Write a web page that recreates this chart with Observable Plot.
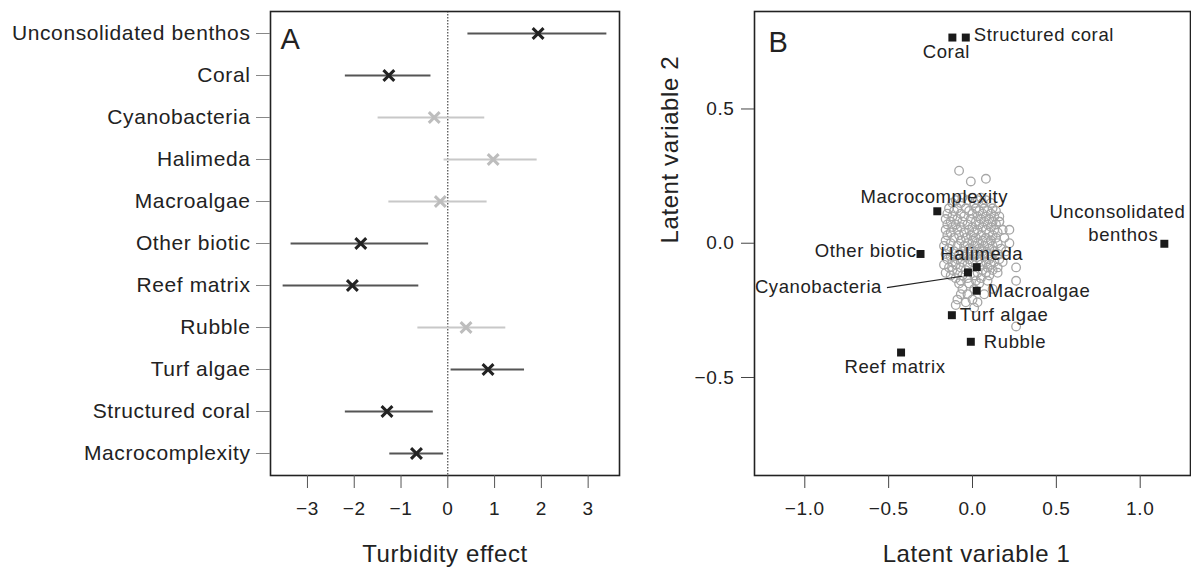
<!DOCTYPE html>
<html>
<head>
<meta charset="utf-8">
<script src="https://cdn.jsdelivr.net/npm/d3@7"></script>
<script src="https://cdn.jsdelivr.net/npm/@observablehq/plot@0.6"></script>
<style>
  html, body { margin: 0; padding: 0; background: white; }
  #wrap { display: flex; width: 1191px; height: 568px; overflow: hidden; }
  #wrap svg { overflow: visible; }
</style>
</head>
<body>
<div id="wrap"><div id="a"></div><div id="b"></div></div>
<script>
// ---------- Panel A data ----------
const categories = ["Unconsolidated benthos", "Coral", "Cyanobacteria", "Halimeda", "Macroalgae",
  "Other biotic", "Reef matrix", "Rubble", "Turf algae", "Structured coral", "Macrocomplexity"];
const estimate = [1.93, -1.26, -0.29, 0.97, -0.16, -1.86, -2.04, 0.39, 0.86, -1.30, -0.67];
const lower    = [0.43, -2.19, -1.49, -0.08, -1.26, -3.35, -3.52, -0.64, 0.07, -2.19, -1.24];
const upper    = [3.40, -0.36, 0.79, 1.91, 0.84, -0.41, -0.62, 1.24, 1.64, -0.31, -0.09];
const significant = [true, true, false, false, false, true, true, false, true, true, true];
const effectTicks = [-3, -2, -1, 0, 1, 2, 3];

// ---------- Panel B data ----------
const lvNames = ["Coral", "Structured coral", "Macrocomplexity", "Unconsolidated benthos", "Other biotic",
  "Halimeda", "Cyanobacteria", "Macroalgae", "Turf algae", "Rubble", "Reef matrix"];
const lv1 = [-0.12, -0.04, -0.21, 1.144, -0.31, 0.025, -0.027, 0.025, -0.123, -0.01, -0.426];
const lv2 = [0.766, 0.766, 0.119, -0.002, -0.04, -0.089, -0.109, -0.177, -0.268, -0.367, -0.407];
const lvTicksX = [-1, -0.5, 0, 0.5, 1];
const lvTicksY = [-0.5, 0, 0.5];
const siteScores = [
  [-0.06,0.17],[0.00,0.17],[0.05,0.17],
  [-0.10,0.16],[-0.03,0.16],[0.03,0.16],[0.08,0.16],
  [-0.12,0.15],[-0.07,0.15],[0.01,0.15],[0.06,0.15],[0.11,0.15],
  [-0.14,0.13],[-0.09,0.13],[-0.04,0.13],[0.02,0.13],[0.07,0.13],[0.12,0.13],
  [-0.11,0.12],[-0.02,0.12],[0.04,0.12],[0.09,0.12],[0.14,0.12],
  [-0.15,0.11],[-0.07,0.11],[0.00,0.11],[0.06,0.11],[0.11,0.11],
  [-0.12,0.10],[-0.05,0.10],[0.03,0.10],[0.08,0.10],[0.13,0.10],[0.16,0.10],
  [-0.16,0.09],[-0.09,0.09],[-0.01,0.09],[0.05,0.09],[0.10,0.09],
  [-0.13,0.08],[-0.06,0.08],[0.02,0.08],[0.07,0.08],[0.12,0.08],[0.16,0.08],
  [-0.15,0.07],[-0.10,0.07],[-0.03,0.07],[0.04,0.07],[0.09,0.07],[0.14,0.07],
  [-0.12,0.06],[-0.07,0.06],[0.00,0.06],[0.06,0.06],[0.11,0.06],
  [-0.16,0.05],[-0.09,0.05],[-0.02,0.05],[0.03,0.05],[0.08,0.05],[0.13,0.05],[0.18,0.05],
  [-0.13,0.04],[-0.05,0.04],[0.01,0.04],[0.10,0.04],[0.15,0.04],
  [-0.15,0.03],[-0.08,0.03],[-0.01,0.03],[0.05,0.03],[0.12,0.03],
  [-0.11,0.02],[-0.04,0.02],[0.02,0.02],[0.08,0.02],[0.14,0.02],[0.19,0.02],
  [-0.16,0.01],[-0.07,0.01],[0.00,0.01],[0.06,0.01],[0.11,0.01],
  [-0.13,0.00],[-0.03,0.00],[0.03,0.00],[0.09,0.00],[0.15,0.00],
  [-0.17,-0.01],[-0.09,-0.01],[-0.05,-0.01],[0.01,-0.01],[0.07,-0.01],[0.12,-0.01],
  [-0.14,-0.02],[-0.02,-0.02],[0.04,-0.02],[0.10,-0.02],[0.17,-0.02],
  [-0.11,-0.03],[-0.06,-0.03],[0.00,-0.03],[0.06,-0.03],[0.13,-0.03],
  [-0.16,-0.04],[-0.08,-0.04],[-0.03,-0.04],[0.03,-0.04],[0.09,-0.04],[0.15,-0.04],
  [-0.13,-0.05],[-0.05,-0.05],[0.01,-0.05],[0.07,-0.05],[0.11,-0.05],
  [-0.15,-0.06],[-0.09,-0.06],[-0.02,-0.06],[0.04,-0.06],[0.10,-0.06],[0.16,-0.06],
  [-0.12,-0.07],[-0.06,-0.07],[0.00,-0.07],[0.08,-0.07],[0.13,-0.07],
  [-0.17,-0.08],[-0.10,-0.08],[-0.03,-0.08],[0.05,-0.08],[0.11,-0.08],
  [-0.14,-0.09],[-0.07,-0.09],[0.09,-0.09],[0.15,-0.09],
  [-0.12,-0.10],[-0.04,-0.10],[0.06,-0.10],[0.12,-0.10],
  [-0.16,-0.11],[-0.09,-0.11],[0.03,-0.11],[0.08,-0.11],
  [-0.13,-0.12],[-0.06,-0.12],[0.01,-0.12],[0.10,-0.12],
  [-0.10,-0.13],[-0.03,-0.13],[0.05,-0.13],
  [-0.07,-0.14],[0.02,-0.14],[0.09,-0.14],
  [-0.08,-0.15],[-0.02,-0.15],[0.04,-0.15],
  [-0.06,-0.17],[0.01,-0.17],
  [-0.07,-0.19],[-0.03,-0.19],
  [-0.09,-0.21],[0.00,-0.21],
  [-0.04,-0.22],[0.03,-0.22],
  [-0.10,-0.23],[0.01,-0.24],
  [-0.08,0.27],[-0.01,0.23],[0.08,0.24],[0.16,0.08],[0.22,0.05],[0.22,0.00],
  [0.26,-0.09],[0.26,-0.14],[0.15,-0.11],[0.26,-0.31],[0.20,-0.03],[0.18,-0.07],
  [0.12,-0.17],[0.07,-0.19]
];
// leader line for the Cyanobacteria label (data units)
const cyanoLeader = {x1: -0.51, y1: -0.165, x2: -0.062, y2: -0.123};

// ---------- shared style ----------
const FONT = "'Liberation Sans', Arial, Helvetica, sans-serif";
const INK = "#222";
const STYLE = {fontFamily: FONT, fontSize: "19px", color: INK, background: "white",
  overflow: "visible", letterSpacing: "0.6px"};

const rowsA = categories.map((name, i) => ({
  name, est: estimate[i], lo: lower[i], hi: upper[i], sig: significant[i]
}));
const colorOf = d => d.sig ? INK : "#bdbdbd";
const lineOf = d => d.sig ? "#555" : "#c8c8c8";

const plotA = Plot.plot({
  width: 640, height: 568,
  marginLeft: 270, marginRight: 21, marginTop: 11, marginBottom: 93,
  style: STYLE,
  x: {domain: [-3.79, 3.67], ticks: effectTicks},
  y: {type: "point", domain: categories, padding: 0.4},
  marks: [
    Plot.ruleX([0], {stroke: INK, strokeWidth: 1, strokeDasharray: "1.5,1.5"}),
    Plot.ruleY(rowsA, {y: "name", x1: "lo", x2: "hi", stroke: lineOf, strokeWidth: 1.8}),
    Plot.dot(rowsA, {x: "est", y: "name", symbol: "times", r: 5, stroke: colorOf, strokeWidth: 3}),
    Plot.frame({stroke: INK, strokeWidth: 1.6}),
    Plot.axisY({tickSize: 14, tickPadding: 6, label: null, fontSize: 21, stroke: "#888", fill: INK}),
    Plot.axisX({ticks: effectTicks, tickSize: 13, tickPadding: 13, label: null, fontSize: 19,
      stroke: "#555", fill: INK, tickFormat: d3.format("d")}),
    Plot.text(["Turbidity effect"], {frameAnchor: "bottom", dy: 79, lineAnchor: "middle", fontSize: 24, fill: INK}),
    Plot.text(["A"], {frameAnchor: "top-left", dx: 10, dy: 28, textAnchor: "start", lineAnchor: "middle", fontSize: 29, fill: INK})
  ]
});
document.getElementById("a").append(plotA);

// ---------- Panel B ----------
const loadings = lvNames.map((name, i) => ({name, x: lv1[i], y: lv2[i]}));
const sites = siteScores.map(([x, y]) => ({x, y}));
// label placement (pixels relative to the square)
const placement = [
  {name: "Coral", text: "Coral", anchor: "middle", dx: -6, dy: 15},
  {name: "Structured coral", text: "Structured coral", anchor: "start", dx: 8, dy: -2},
  {name: "Macrocomplexity", text: "Macrocomplexity", anchor: "middle", dx: -3, dy: -14},
  {name: "Unconsolidated benthos", text: "Unconsolidated", anchor: "end", dx: 21, dy: -32},
  {name: "Unconsolidated benthos", text: "benthos", anchor: "end", dx: -6, dy: -9},
  {name: "Other biotic", text: "Other biotic", anchor: "end", dx: -4, dy: -3},
  {name: "Halimeda", text: "Halimeda", anchor: "middle", dx: 5, dy: -13},
  {name: "Macroalgae", text: "Macroalgae", anchor: "start", dx: 11, dy: 0},
  {name: "Turf algae", text: "Turf algae", anchor: "start", dx: 8, dy: 0},
  {name: "Rubble", text: "Rubble", anchor: "start", dx: 13, dy: 0},
  {name: "Reef matrix", text: "Reef matrix", anchor: "middle", dx: -6, dy: 15}
];

const labelMarks = placement.map(p => Plot.text(loadings.filter(d => d.name === p.name), {
  x: "x", y: "y", text: () => p.text, textAnchor: p.anchor, dx: p.dx, dy: p.dy,
  lineAnchor: "middle", fontSize: 18.5, fill: INK
}));

const plotB = Plot.plot({
  width: 551, height: 568,
  marginLeft: 114, marginRight: 1, marginTop: 11, marginBottom: 93,
  style: STYLE,
  x: {domain: [-1.3, 1.3]},
  y: {domain: [-0.865, 0.863]},
  marks: [
    Plot.dot(sites, {x: "x", y: "y", r: 4.3, stroke: "#a6a6a6", strokeWidth: 1.3, fill: "none"}),
    Plot.link([cyanoLeader], {x1: "x1", y1: "y1", x2: "x2", y2: "y2", stroke: INK, strokeWidth: 1.2}),
    Plot.text([cyanoLeader], {x: "x1", y: "y1", text: () => "Cyanobacteria", textAnchor: "end", dx: -5,
      lineAnchor: "middle", fontSize: 18.5, fill: INK}),
    Plot.dot(loadings, {x: "x", y: "y", symbol: "square", r: 4.5, fill: "#1a1a1a", stroke: "none"}),
    ...labelMarks,
    Plot.frame({stroke: INK, strokeWidth: 1.6}),
    Plot.axisY({ticks: lvTicksY, tickSize: 13, tickPadding: 7, label: null, fontSize: 19,
      stroke: "#444", fill: INK, tickFormat: d3.format(".1f")}),
    Plot.axisX({ticks: lvTicksX, tickSize: 13, tickPadding: 13, label: null, fontSize: 19,
      stroke: "#444", fill: INK, tickFormat: d3.format(".1f")}),
    Plot.text(["Latent variable 1"], {frameAnchor: "bottom", dx: 4, dy: 79, lineAnchor: "middle", fontSize: 24, fill: INK}),
    Plot.text(["Latent variable 2"], {frameAnchor: "left", dx: -84, rotate: -90, lineAnchor: "middle", fontSize: 24, fill: INK}),
    Plot.text(["B"], {frameAnchor: "top-left", dx: 14, dy: 31, textAnchor: "start", lineAnchor: "middle", fontSize: 29, fill: INK})
  ]
});
document.getElementById("b").append(plotB);
</script>
</body>
</html>
